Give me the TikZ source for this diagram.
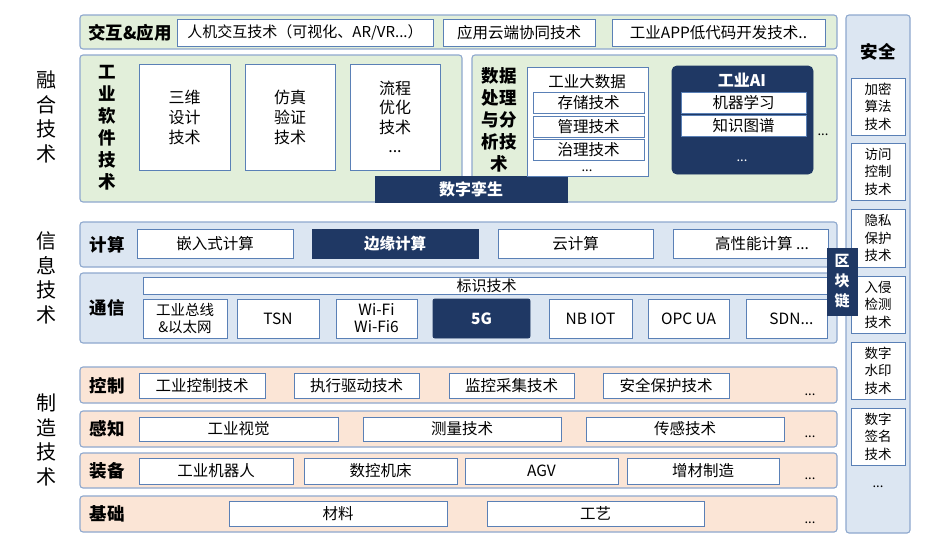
\documentclass[tikz,border=0pt]{standalone}
\usepackage{fontspec}
\setmainfont{Noto Sans CJK SC}
\definecolor{bandline}{HTML}{8EA8CE}
\definecolor{boxline}{HTML}{5A80B6}
\definecolor{navy}{HTML}{1F3864}
\definecolor{gfill}{HTML}{E2EFDA}
\definecolor{bfill}{HTML}{DCE6F2}
\definecolor{pfill}{HTML}{FBE5D6}
\newcommand\mkbox[7]{\node[#6, minimum width={(#4-#2)*1pt}, minimum height={(#5-#3)*1pt}] (#1) at ({(#2+#4)/2},{(#3+#5)/2}) {#7};}
\begin{document}
\begin{tikzpicture}[x=1pt,y=-1pt,
  band/.style={draw=bandline, line width=1.1pt, rounded corners=3pt, inner sep=0pt, outer sep=0pt},
  wb/.style={draw=boxline, fill=white, line width=0.9pt, inner sep=0pt, outer sep=0pt, align=center, font=\fontsize{15.5}{19}\selectfont},
  db/.style={draw=navy, fill=navy, text=white, line width=0.9pt, inner sep=0pt, outer sep=0pt, align=center, font=\bfseries\fontsize{15.5}{19}\selectfont},
  sb/.style={wb, font=\fontsize{13.5}{17.5}\selectfont},
  ttl/.style={inner sep=0pt, align=center, font=\bfseries\fontsize{17.5}{22}\selectfont},
  side/.style={inner sep=0pt, align=center, font=\fontsize{20}{24.5}\selectfont},
  txt/.style={inner sep=0pt, align=center, font=\fontsize{15.5}{19}\selectfont},
  dts/.style={inner sep=0pt, anchor=base, font=\fontsize{13}{15}\selectfont}]
\useasboundingbox[fill=white] (0,0) rectangle (952,538);

% ---------- bands ----------
\mkbox{jh}{80}{15}{837}{49}{band,fill=gfill}{}
\mkbox{rs}{80}{55}{462}{202}{band,fill=gfill}{}
\mkbox{sj}{472}{55}{837}{202}{band,fill=gfill}{}
\mkbox{js}{80}{222}{837}{267}{band,fill=bfill}{}
\mkbox{tx}{80}{273}{837}{343}{band,fill=bfill}{}
\mkbox{kz}{80}{367}{837}{403}{band,fill=pfill}{}
\mkbox{gz}{80}{411}{837}{447}{band,fill=pfill}{}
\mkbox{zb}{80}{453}{837}{488}{band,fill=pfill}{}
\mkbox{jc}{80}{496}{837}{532}{band,fill=pfill}{}
\mkbox{aq}{846}{15}{910}{533}{band,fill=bfill}{}

% ---------- side labels ----------
\node[side] (lrh) at (46,117) {融\\合\\技\\术};
\node[side] (lxx) at (46,278) {信\\息\\技\\术};
\node[side] (lzz) at (46,440) {制\\造\\技\\术};

% ---------- band titles ----------
\node[ttl] (tjh) at (130,33) {交互\&应用};
\node[ttl] (trs) at (107,128) {工\\业\\软\\件\\技\\术};
\node[ttl] (tsj) at (499,120) {数据\\处理\\与分\\析技\\术};
\node[ttl] (tjs) at (107,245) {计算};
\node[ttl] (ttx) at (107,308) {通信};
\node[ttl] (tkz) at (107,386) {控制};
\node[ttl] (tgz) at (107,429) {感知};
\node[ttl] (tzb) at (107,471) {装备};
\node[ttl] (tjc) at (107,514) {基础};
\node[ttl] (taq) at (878,52) {安全};

% ---------- interaction & application ----------
\mkbox{jh1}{177}{19}{433}{46}{wb,font=\fontsize{15}{18}\selectfont}{人机交互技术（可视化、AR/VR...）}
\mkbox{jh2}{443}{19}{595}{46}{wb}{应用云端协同技术}
\mkbox{jh3}{612}{19}{825}{46}{wb}{工业APP低代码开发技术..}

% ---------- industrial software ----------
\mkbox{rs1}{139}{64}{230}{170}{wb,font=\fontsize{16}{20}\selectfont}{三维\\设计\\技术}
\mkbox{rs2}{245}{64}{335}{170}{wb,font=\fontsize{16}{20}\selectfont}{仿真\\验证\\技术}
\mkbox{rs3}{350}{64}{440}{170}{wb,font=\fontsize{16}{19.5}\selectfont}{流程\\优化\\技术\\...}
\mkbox{twin}{375}{176}{567}{202}{db,font=\bfseries\fontsize{16}{19}\selectfont}{数字孪生}

% ---------- big data ----------
\mkbox{bd}{527}{67}{648}{176}{wb}{}
\node[txt] (bdt) at (587,82) {工业大数据};
\mkbox{bd1}{533}{92}{644}{113}{wb}{存储技术}
\mkbox{bd2}{533}{116}{644}{137}{wb}{管理技术}
\mkbox{bd3}{533}{139}{644}{160}{wb}{治理技术}
\node[dts] (bdd) at (587,171) {...};

% ---------- industrial AI ----------
\mkbox{ai}{672}{66}{813}{174}{db,rounded corners=5pt}{}
\node[ttl,text=white,font=\bfseries\fontsize{16}{19}\selectfont] (ait) at (742,80) {工业AI};
\mkbox{ai1}{681}{92}{806}{113}{wb}{机器学习}
\mkbox{ai2}{681}{115}{806}{136}{wb}{知识图谱}
\node[dts,text=white] (aid) at (742,161) {...};
\node[dts] (sjd) at (823,135) {...};

% ---------- computing ----------
\mkbox{js1}{137}{229}{293}{258}{wb}{嵌入式计算}
\mkbox{js2}{312}{229}{478}{258}{db}{边缘计算}
\mkbox{js3}{498}{229}{653}{258}{wb}{云计算}
\mkbox{js4}{673}{229}{828}{258}{wb}{}
\node[txt] (js4t) at (762,244) {高性能计算 ...};

% ---------- communication ----------
\mkbox{bs}{143}{277}{830}{294}{wb,font=\fontsize{15}{18}\selectfont}{标识技术}
\mkbox{tx1}{143}{299}{227}{338}{wb,font=\fontsize{14.5}{17}\selectfont}{工业总线\\\&以太网}
\mkbox{tx2}{237}{299}{319}{338}{wb}{TSN}
\mkbox{tx3}{336}{299}{417}{338}{wb,font=\fontsize{15.5}{17}\selectfont}{Wi-Fi\\Wi-Fi6}
\mkbox{tx4}{433}{299}{530}{338}{db,rounded corners=2pt}{5G}
\mkbox{tx5}{549}{299}{632}{338}{wb}{NB IOT}
\mkbox{tx6}{648}{299}{729}{338}{wb}{OPC UA}
\mkbox{tx7}{746}{299}{827}{338}{wb}{\hspace*{10pt}SDN...}

% ---------- control ----------
\mkbox{kz1}{139}{373}{265}{398}{wb}{工业控制技术}
\mkbox{kz2}{294}{373}{419}{398}{wb}{执行驱动技术}
\mkbox{kz3}{449}{373}{574}{398}{wb}{监控采集技术}
\mkbox{kz4}{603}{373}{729}{398}{wb}{安全保护技术}
\node[dts] (kzd) at (810,395) {...};

% ---------- sensing ----------
\mkbox{gz1}{139}{417}{338}{441}{wb}{工业视觉}
\mkbox{gz2}{363}{417}{561}{441}{wb}{测量技术}
\mkbox{gz3}{586}{417}{784}{441}{wb}{传感技术}
\node[dts] (gzd) at (810,437) {...};

% ---------- equipment ----------
\mkbox{zb1}{139}{458}{293}{484}{wb}{工业机器人}
\mkbox{zb2}{304}{458}{457}{484}{wb}{数控机床}
\mkbox{zb3}{465}{458}{618}{484}{wb}{AGV}
\mkbox{zb4}{627}{458}{779}{484}{wb}{增材制造}
\node[dts] (zbd) at (810,479) {...};

% ---------- foundation ----------
\mkbox{jc1}{229}{501}{447}{526}{wb}{材料}
\mkbox{jc2}{487}{501}{704}{526}{wb}{工艺}
\node[dts] (jcd) at (810,523) {...};

% ---------- security ----------
\mkbox{aq1}{851}{78}{905}{135}{sb}{加密\\算法\\技术}
\mkbox{aq2}{851}{143}{905}{200}{sb}{访问\\控制\\技术}
\mkbox{aq3}{851}{209}{905}{267}{sb}{隐私\\保护\\技术}
\mkbox{aq4}{851}{276}{905}{333}{sb}{入侵\\检测\\技术}
\mkbox{aq5}{851}{342}{905}{399}{sb}{数字\\水印\\技术}
\mkbox{aq6}{851}{408}{905}{465}{sb}{数字\\签名\\技术}
\node[dts] (aqd) at (878,487) {...};

% ---------- blockchain ----------
\mkbox{qkl}{827}{248}{857}{315}{db,font=\bfseries\fontsize{15}{20}\selectfont}{区\\块\\链}
\end{tikzpicture}
\end{document}
